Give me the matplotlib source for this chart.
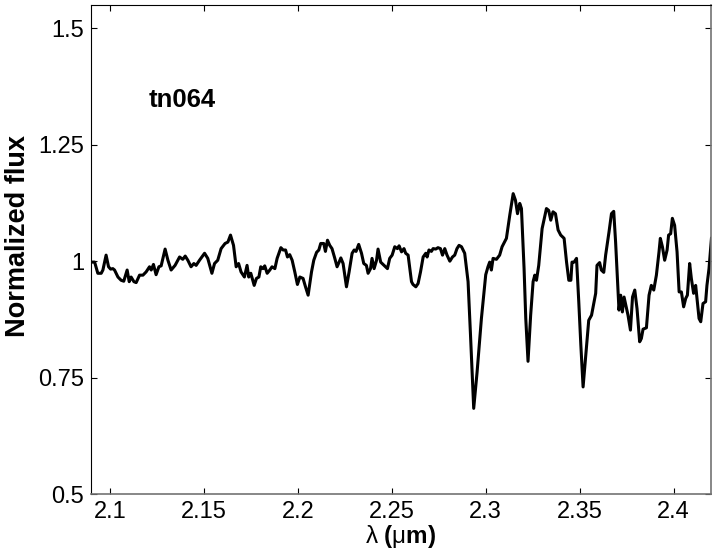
import matplotlib
matplotlib.use("Agg")
import matplotlib.pyplot as plt

plt.rcParams['font.family'] = ['Liberation Sans', 'DejaVu Sans']
plt.rcParams['mathtext.fontset'] = 'custom'
plt.rcParams['mathtext.rm'] = 'Liberation Sans'
plt.rcParams['mathtext.it'] = 'Liberation Sans:italic'
plt.rcParams['mathtext.bf'] = 'Liberation Sans:bold'

# spectrum (wavelength in micron, normalized flux)
wavelength = [
    2.0901, 2.0919, 2.0936, 2.0954, 2.0963, 2.0980, 2.0993, 2.1004, 2.1016, 2.1025,
    2.1043, 2.1060, 2.1074, 2.1092, 2.1103, 2.1113, 2.1128, 2.1140, 2.1158, 2.1176,
    2.1193, 2.1211, 2.1220, 2.1232, 2.1246, 2.1261, 2.1273, 2.1294, 2.1309, 2.1326,
    2.1347, 2.1371, 2.1388, 2.1401, 2.1415, 2.1432, 2.1447, 2.1459, 2.1477, 2.1504,
    2.1521, 2.1543, 2.1557, 2.1574, 2.1592, 2.1613, 2.1628, 2.1642, 2.1658, 2.1672,
    2.1685, 2.1698, 2.1716, 2.1730, 2.1739, 2.1750, 2.1768, 2.1780, 2.1793, 2.1803,
    2.1815, 2.1824, 2.1837, 2.1851, 2.1863, 2.1878, 2.1890, 2.1910, 2.1922, 2.1935,
    2.1945, 2.1957, 2.1970, 2.1984, 2.1998, 2.2011, 2.2028, 2.2041, 2.2055, 2.2073,
    2.2085, 2.2100, 2.2112, 2.2122, 2.2138, 2.2147, 2.2158, 2.2170, 2.2182, 2.2197,
    2.2209, 2.2220, 2.2229, 2.2241, 2.2259, 2.2273, 2.2289, 2.2300, 2.2310, 2.2324,
    2.2339, 2.2351, 2.2365, 2.2374, 2.2387, 2.2395, 2.2406, 2.2419, 2.2427, 2.2441,
    2.2459, 2.2477, 2.2489, 2.2502, 2.2516, 2.2530, 2.2539, 2.2552, 2.2565, 2.2574,
    2.2587, 2.2605, 2.2613, 2.2628, 2.2640, 2.2653, 2.2667, 2.2681, 2.2688, 2.2698,
    2.2711, 2.2720, 2.2734, 2.2746, 2.2759, 2.2770, 2.2782, 2.2794, 2.2809, 2.2823,
    2.2835, 2.2847, 2.2858, 2.2871, 2.2888, 2.2906, 2.2919, 2.2936, 2.2954, 2.2977,
    2.3000, 2.3012, 2.3021, 2.3030, 2.3039, 2.3057, 2.3074, 2.3087, 2.3110, 2.3128,
    2.3146, 2.3158, 2.3169, 2.3181, 2.3190, 2.3204, 2.3213, 2.3225, 2.3239, 2.3252,
    2.3261, 2.3270, 2.3282, 2.3300, 2.3323, 2.3335, 2.3346, 2.3358, 2.3371, 2.3385,
    2.3399, 2.3417, 2.3430, 2.3442, 2.3453, 2.3459, 2.3470, 2.3483, 2.3495, 2.3506,
    2.3518, 2.3531, 2.3548, 2.3563, 2.3585, 2.3592, 2.3606, 2.3615, 2.3628, 2.3638,
    2.3656, 2.3669, 2.3681, 2.3691, 2.3704, 2.3709, 2.3718, 2.3727, 2.3736, 2.3745,
    2.3757, 2.3770, 2.3781, 2.3793, 2.3805, 2.3819, 2.3828, 2.3837, 2.3855, 2.3869,
    2.3881, 2.3894, 2.3908, 2.3922, 2.3929, 2.3940, 2.3952, 2.3965, 2.3973, 2.3984,
    2.3993, 2.4005, 2.4018, 2.4029, 2.4041, 2.4053, 2.4064, 2.4073, 2.4085, 2.4094,
    2.4106, 2.4117, 2.4124, 2.4135, 2.4144, 2.4156, 2.4170, 2.4177, 2.4188, 2.4201,
]
flux = [
    0.998, 0.998, 0.974, 0.974, 0.981, 1.013, 0.988, 0.983, 0.984, 0.981,
    0.966, 0.959, 0.957, 0.981, 0.956, 0.966, 0.956, 0.954, 0.970, 0.970,
    0.977, 0.988, 0.981, 0.993, 0.971, 0.988, 0.990, 1.026, 1.002, 0.981,
    0.991, 1.009, 1.004, 1.011, 1.002, 0.988, 0.995, 0.991, 1.002, 1.017,
    1.006, 0.974, 0.995, 1.002, 1.027, 1.038, 1.041, 1.056, 1.034, 0.988,
    0.995, 0.977, 0.966, 0.991, 0.966, 0.974, 0.948, 0.963, 0.966, 0.988,
    0.984, 0.990, 0.974, 0.981, 0.988, 0.984, 1.006, 1.029, 1.024, 1.024,
    1.009, 1.014, 1.002, 0.977, 0.950, 0.966, 0.963, 0.945, 0.927, 0.977,
    1.002, 1.019, 1.024, 1.038, 1.038, 1.021, 1.045, 1.034, 1.027, 1.006,
    0.988, 0.998, 1.007, 0.995, 0.945, 0.977, 1.017, 1.024, 1.021, 1.036,
    1.017, 0.995, 0.991, 0.974, 0.984, 1.006, 0.984, 1.002, 1.026, 0.998,
    0.991, 0.984, 1.006, 1.013, 1.031, 1.027, 1.033, 1.020, 1.027, 1.017,
    1.013, 0.956, 0.950, 0.945, 0.952, 0.977, 1.009, 1.017, 1.009, 1.024,
    1.021, 1.027, 1.026, 1.029, 1.027, 1.013, 1.027, 1.013, 1.000, 1.009,
    1.013, 1.027, 1.034, 1.031, 1.017, 0.956, 0.841, 0.684, 0.762, 0.877,
    0.971, 0.988, 0.998, 0.981, 1.006, 1.004, 1.013, 1.031, 1.049, 1.099,
    1.145, 1.131, 1.102, 1.124, 1.113, 0.984, 0.877, 0.785, 0.884, 0.956,
    0.970, 0.959, 0.991, 1.070, 1.113, 1.109, 1.088, 1.106, 1.102, 1.067,
    1.056, 1.049, 0.998, 0.959, 0.959, 0.998, 0.998, 1.006, 0.913, 0.820,
    0.730, 0.791, 0.873, 0.884, 0.931, 0.991, 0.997, 0.981, 0.976, 1.013,
    1.063, 1.102, 1.107, 1.041, 0.934, 0.895, 0.927, 0.891, 0.923, 0.906,
    0.884, 0.852, 0.923, 0.938, 0.898, 0.827, 0.834, 0.854, 0.857, 0.927,
    0.948, 0.938, 0.970, 1.020, 1.049, 1.031, 1.002, 1.024, 1.056, 1.059,
    1.092, 1.077, 1.020, 0.934, 0.934, 0.902, 0.920, 0.927, 0.995, 0.963,
    0.931, 0.948, 0.920, 0.877, 0.870, 0.909, 0.913, 0.948, 0.984, 1.049,
]
star_name = "tn064"
xticks = [2.1, 2.15, 2.2, 2.25, 2.3, 2.35, 2.4]
yticks = [0.5, 0.75, 1.0, 1.25, 1.5]
ytick_labels = ["0.5", "0.75", "1", "1.25", "1.5"]

fig = plt.figure(figsize=(7.17, 5.57), dpi=100)
ax = fig.add_axes([0.127, 0.113, 0.865, 0.878])

ax.plot(wavelength, flux, color="black", linewidth=2.2)

ax.set_xlim(2.09, 2.42)
ax.set_ylim(0.5, 1.55)
ax.set_xticks(xticks)
ax.set_xticklabels([str(t) for t in xticks])
ax.set_yticks(yticks)
ax.set_yticklabels(ytick_labels)
ax.tick_params(direction="in", top=True, right=True, length=4, width=0.8,
               labelsize=17, pad=5)

for side in ["left", "top"]:
    ax.spines[side].set_color("black")
    ax.spines[side].set_linewidth(0.8)
for side in ["bottom", "right"]:
    ax.spines[side].set_color("0.45")
    ax.spines[side].set_linewidth(1.2)

ax.set_xlabel(r"$\mathrm{\lambda}\ \mathbf{(}\mathrm{\mu}\mathbf{m)}$", fontsize=17.5, labelpad=0)
ax.set_ylabel("Normalized flux", fontsize=19.5, fontweight="bold")
ax.yaxis.set_label_coords(-0.097, 0.528)

ax.text(2.1205, 1.346, star_name, fontsize=18.5, fontweight="bold", va="center")

fig.savefig("out.png", dpi=100)
